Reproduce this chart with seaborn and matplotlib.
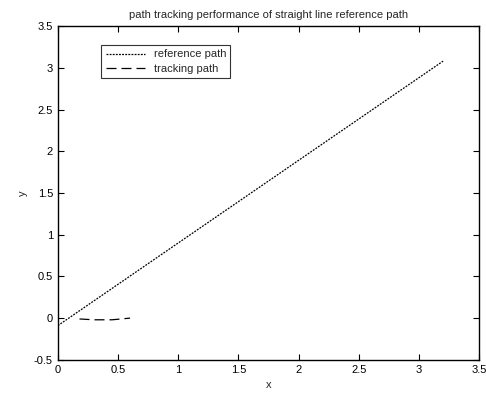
import numpy as np
import pandas as pd
import matplotlib
matplotlib.use("Agg")
import matplotlib.pyplot as plt
import seaborn as sns

# reference path (straight line)
ref_x = [0.0, 3.2]
ref_y = [-0.09, 3.08]

# tracking path (short segment near origin)
track_x = [0.18, 0.3, 0.45, 0.6]
track_y = [-0.01, -0.02, -0.02, 0.0]

x_ticks = [0, 0.5, 1, 1.5, 2, 2.5, 3, 3.5]
y_ticks = [-0.5, 0, 0.5, 1, 1.5, 2, 2.5, 3, 3.5]

sns.set_style("ticks", {"xtick.direction": "in", "ytick.direction": "in"})
plt.rcParams['font.family'] = ['Liberation Sans', 'DejaVu Sans']

fig = plt.figure(figsize=(4.86, 3.95), dpi=100)
ax = fig.add_axes([0.119, 0.089, 0.867, 0.845])

ref = pd.DataFrame({"x": ref_x, "y": ref_y})
trk = pd.DataFrame({"x": track_x, "y": track_y})

sns.lineplot(data=ref, x="x", y="y", ax=ax, color="black", lw=0.9,
             linestyle=(0, (1.5, 1)), label="reference path", sort=False)
sns.lineplot(data=trk, x="x", y="y", ax=ax, color="black", lw=0.9,
             linestyle=(0, (8, 4)), label="tracking path", sort=False)

ax.set_xlim(0, 3.5)
ax.set_ylim(-0.5, 3.5)
ax.set_xticks(x_ticks)
ax.set_xticklabels(["0", "0.5", "1", "1.5", "2", "2.5", "3", "3.5"])
ax.set_yticks(y_ticks)
ax.set_yticklabels(["-0.5", "0", "0.5", "1", "1.5", "2", "2.5", "3", "3.5"])
ax.tick_params(top=True, right=True, labelsize=8, length=4, width=0.8, colors="black")
for s in ax.spines.values():
    s.set_linewidth(1.0)
    s.set_color("black")

ax.set_xlabel("x", fontsize=8)
ax.set_ylabel("y", fontsize=8)
ax.set_title("path tracking performance of straight line reference path", fontsize=8)

leg = ax.legend(loc="upper left", bbox_to_anchor=(0.09, 0.96), fontsize=8,
                frameon=True, fancybox=False, edgecolor="black",
                handlelength=3.5, borderpad=0.4, labelspacing=0.4)
leg.get_frame().set_linewidth(0.8)

fig.savefig("out.png", dpi=100)
